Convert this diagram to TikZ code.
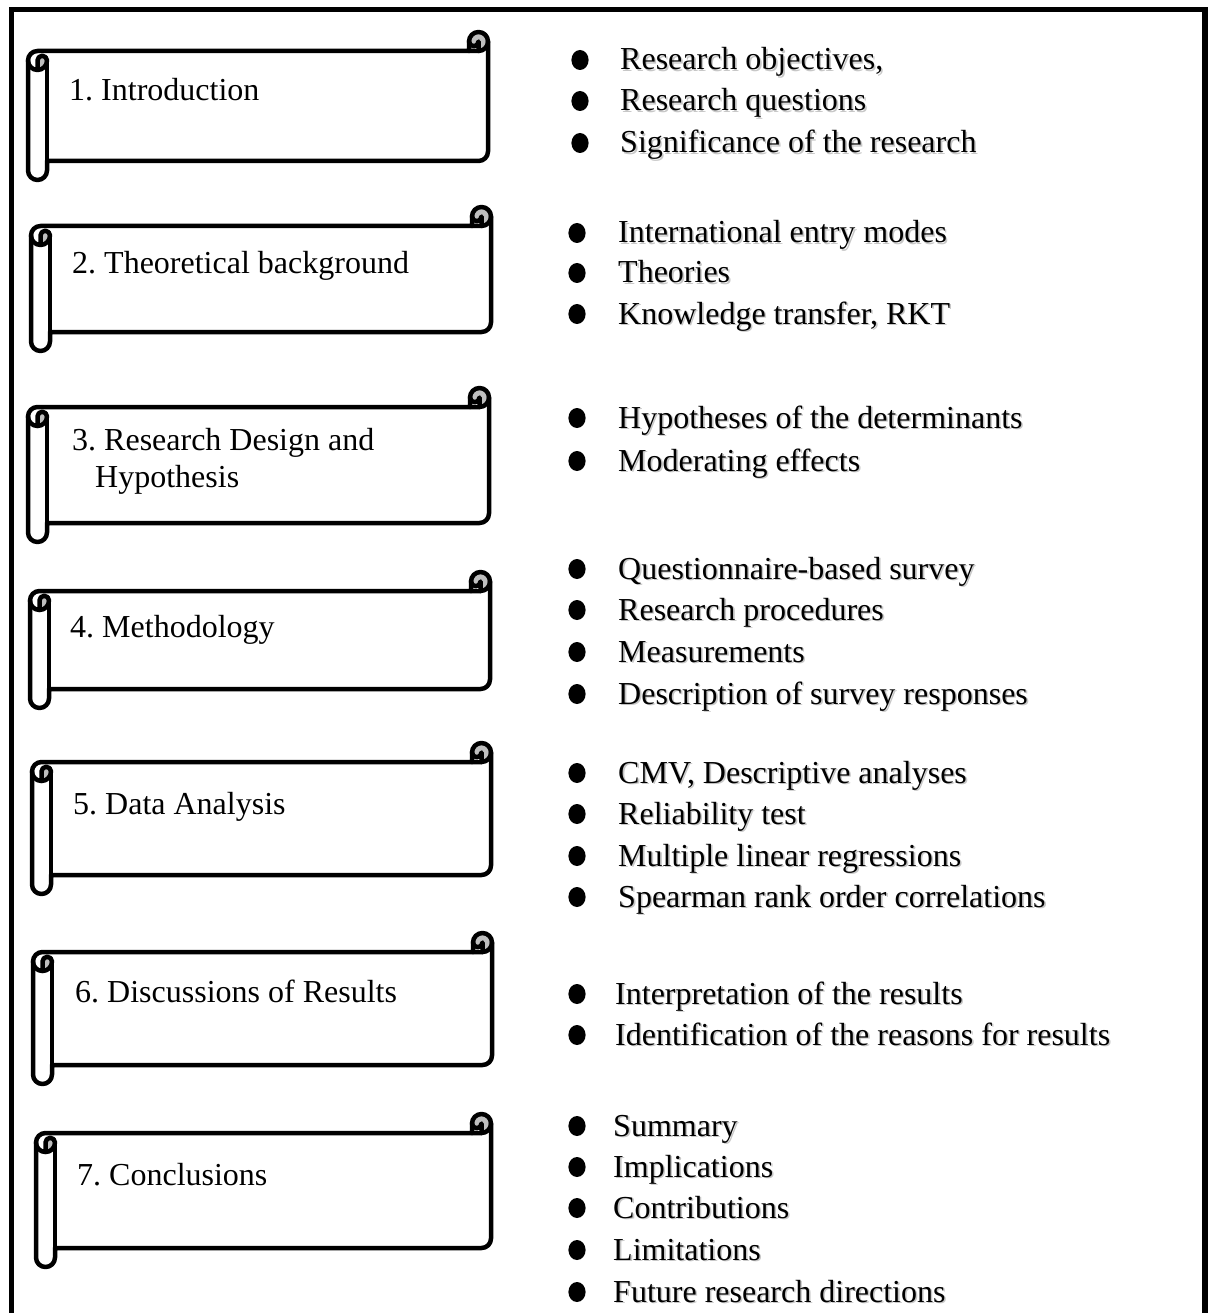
\documentclass[tikz,border=0pt]{standalone}
\usepackage{fontspec}
\setmainfont{Liberation Serif}
\frenchspacing
\tikzset{
  scrollline/.style={draw=black, line width=4.5pt, line join=round, line cap=round},
  curlfill/.style={fill=black!25},
  headtext/.style={anchor=base west, inner sep=0pt, font=\fontsize{32}{36}\selectfont, align=left},
  itemtext/.style={anchor=base west, inner sep=0pt, font=\fontsize{32}{36}\selectfont},
  itemshadow/.style={anchor=base west, inner sep=0pt, font=\fontsize{32}{36}\selectfont, text=black!22},
  dot/.style={fill=black, draw=none}
}
% horizontal scroll: #1 name, #2 left, #3 top, #4 right, #5 bottom (y grows downwards)
\newcommand\scrollshape[5]{%
  \coordinate (#1) at ({#2},{#3});
  % shaded inner curls
  \fill[curlfill] ({#4-9.5},{#3+19}) arc[start angle=90, delta angle=-270, radius=9.5]
       arc[start angle=180, delta angle=-180, radius=4.75] -- cycle;
  \fill[curlfill] ({#2+9.5},{#3+38}) arc[start angle=90, delta angle=-90, radius=9.5]
       arc[start angle=0, delta angle=-180, radius=4.75] -- cycle;
  % outline
  \draw[scrollline] ({#2},{#3+28.5}) arc[start angle=180, delta angle=90, radius=9.5]
       -- ({#4-19},{#3+19}) -- ({#4-19},{#3+9.5})
       arc[start angle=180, delta angle=180, radius=9.5]
       -- ({#4},{#5-28.5}) arc[start angle=0, delta angle=90, radius=9.5]
       -- ({#2+19},{#5-19}) -- ({#2+19},{#5-9.5})
       arc[start angle=0, delta angle=180, radius=9.5] -- cycle;
  % right curl
  \draw[scrollline] ({#4-19},{#3+19}) -- ({#4-9.5},{#3+19})
       arc[start angle=90, delta angle=-90, radius=9.5];
  \draw[scrollline] ({#4-9.5},{#3+19}) -- ({#4-9.5},{#3+9.5})
       arc[start angle=0, delta angle=180, radius=4.75];
  % left roll
  \draw[scrollline] ({#2+9.5},{#3+38}) -- ({#2+9.5},{#3+28.5})
       arc[start angle=180, delta angle=180, radius=4.75]
       arc[start angle=0, delta angle=180, radius=9.5];
  \draw[scrollline] ({#2+19},{#3+28.5}) -- ({#2+19},{#5-19});
}
% bullet item: #1 name, #2 bullet x, #3 text x, #4 baseline y, #5 text
\newcommand\bulletitem[5]{%
  \fill[dot] ({#2},{#4-10}) ellipse[x radius=8.6, y radius=10];
  \node[itemshadow] at ({#3+1.6},{#4+1.6}) {#5};
  \node[itemtext] (#1) at ({#3},{#4}) {#5};
}
\begin{document}
\begin{tikzpicture}[x=1pt,y=-1pt]
\useasboundingbox (0,0) rectangle (1208,1313);
% outer frame, open at the bottom edge of the page
\draw[line width=5.5pt] (11.5,1330) -- (11.5,9.5) -- (1205,9.5) -- (1205,1330);

% chapter scrolls
\scrollshape{s1}{28}{32}{488}{180}
\scrollshape{s2}{31}{207}{491}{351}
\scrollshape{s3}{28}{388}{489}{542}
\scrollshape{s4}{30}{572}{490}{708}
\scrollshape{s5}{32}{743}{491}{894}
\scrollshape{s6}{33}{933}{492}{1084}
\scrollshape{s7}{36}{1114}{491}{1267}

\node[headtext] (h1) at (69,101) {1. Introduction};
\node[headtext] (h2) at (72,274) {2. Theoretical background};
\node[headtext] (h3) at (72,450) {3. Research Design and};
\node[headtext] (h3b) at (95,487) {Hypothesis};
\node[headtext] (h4) at (70,637) {4. Methodology};
\node[headtext] (h5) at (73,814) {5. Data Analysis};
\node[headtext] (h6) at (75,1002) {6. Discussions of Results};
\node[headtext] (h7) at (77,1185) {7. Conclusions};

% chapter contents
\bulletitem{a1}{580}{620}{70}{Research objectives,}
\bulletitem{a2}{580}{620}{111}{Research questions}
\bulletitem{a3}{580}{620}{153}{Significance of the research}

\bulletitem{b1}{577}{618}{243}{International entry modes}
\bulletitem{b2}{577}{618}{283}{Theories}
\bulletitem{b3}{577}{618}{324}{Knowledge transfer, RKT}

\bulletitem{c1}{577}{618}{428}{Hypotheses of the determinants}
\bulletitem{c2}{577}{618}{471}{Moderating effects}

\bulletitem{d1}{577}{618}{579}{Questionnaire-based survey}
\bulletitem{d2}{577}{618}{620}{Research procedures}
\bulletitem{d3}{577}{618}{662}{Measurements}
\bulletitem{d4}{577}{618}{704}{Description of survey responses}

\bulletitem{e1}{577}{618}{783}{CMV, Descriptive analyses}
\bulletitem{e2}{577}{618}{824}{Reliability test}
\bulletitem{e3}{577}{618}{866}{Multiple linear regressions}
\bulletitem{e4}{577}{618}{907}{Spearman rank order correlations}

\bulletitem{f1}{577}{615}{1004}{Interpretation of the results}
\bulletitem{f2}{577}{615}{1045}{Identification of the reasons for results}

\bulletitem{g1}{577}{613}{1136}{Summary}
\bulletitem{g2}{577}{613}{1177}{Implications}
\bulletitem{g3}{577}{613}{1218}{Contributions}
\bulletitem{g4}{577}{613}{1260}{Limitations}
\bulletitem{g5}{577}{613}{1302}{Future research directions}
\end{tikzpicture}
\end{document}
